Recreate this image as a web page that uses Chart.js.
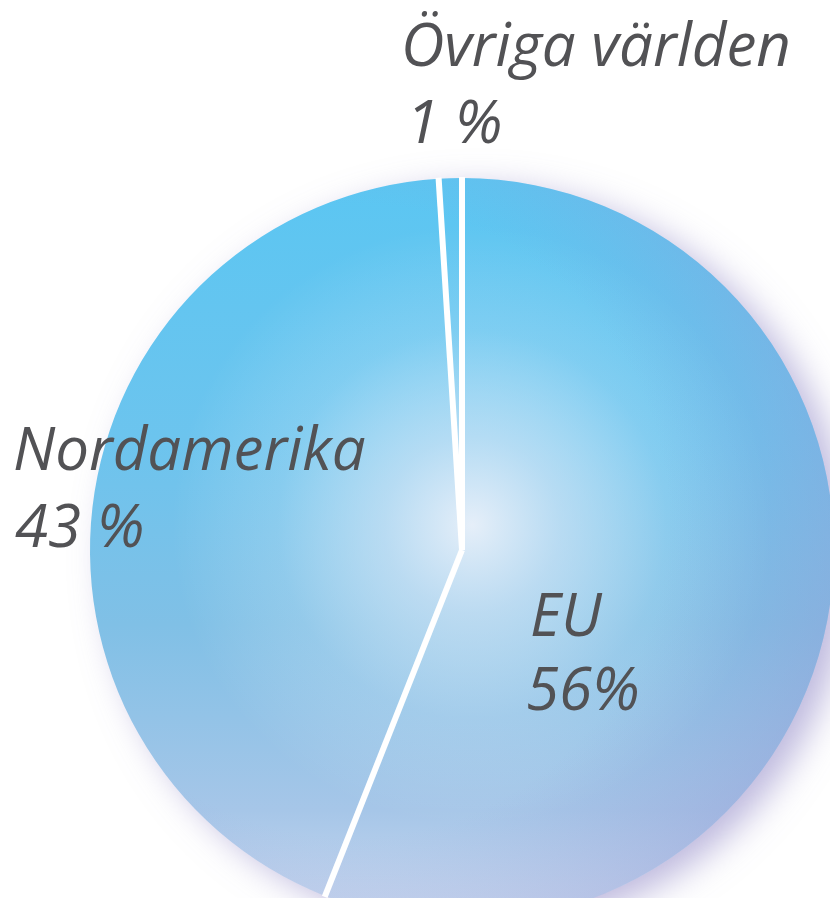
<!DOCTYPE html>
<html lang="sv">
<head>
<meta charset="utf-8">
<title>Export per region</title>
<script src="https://cdn.jsdelivr.net/npm/chart.js@4.4.1/dist/chart.umd.min.js"></script>
<style>
  html, body { margin: 0; padding: 0; background: #fff; overflow: hidden; width: 830px; height: 898px; }
  #wrap { position: absolute; left: 0; top: 0; width: 924px; height: 1100px; }
</style>
</head>
<body>
<div id="wrap"><canvas id="pieChart"></canvas></div>
<script>
// ── DATA ────────────────────────────────────────────────────────────────
const categories = ['EU', 'Nordamerika', 'Övriga världen'];
const shares = [56, 43, 1];
const shareLabels = ['56%', '43 %', '1 %'];

// ── STIL ────────────────────────────────────────────────────────────────
const TEXT_COLOR = '#525255';
const FONT = 'italic 400 60px "Open Sans", Lato, sans-serif';
// var texten hamnar (namn + andel på rad två), relativt canvas
const LABEL_POS = [
  { x: 530, y: 636, dy: 74, dx: -4 },   // EU
  { x: 13,  y: 470, dy: 77, dx: 2 },    // Nordamerika
  { x: 401, y: 66,  dy: 77, dx: 5 }     // Övriga världen
];
const SEP_WIDTH = 6;

let fillGrad = null;
function pieFill(ctx) {
  const chart = ctx.chart;
  const area = chart.chartArea;
  if (!area) return '#62c6f0';
  if (!fillGrad) {
    const g = chart.ctx.createLinearGradient(0, area.top, 0, area.bottom);
    g.addColorStop(0, '#5bc6f2');
    g.addColorStop(0.35, '#6cc4ee');
    g.addColorStop(0.6, '#80c0e6');
    g.addColorStop(0.85, '#a6c6e8');
    g.addColorStop(1, '#ccdaf0');
    fillGrad = g;
  }
  return fillGrad;
}

function arcGeom(chart) {
  const arc = chart.getDatasetMeta(0).data[0];
  if (!arc) return null;
  return arc.getProps(['x', 'y', 'outerRadius'], true);
}

// skugga bakom, ljus reflex och vita skiljelinjer
const shading = {
  id: 'shading',
  beforeDatasetsDraw(chart) {
    const g = arcGeom(chart);
    if (!g) return;
    const c = chart.ctx;
    c.save();
    c.shadowColor = 'rgba(125,115,190,0.5)';
    c.shadowBlur = 34;
    c.shadowOffsetX = 16;
    c.shadowOffsetY = 10;
    c.fillStyle = '#ffffff';
    c.beginPath();
    c.arc(g.x, g.y, g.outerRadius - 1, 0, Math.PI * 2);
    c.fill();
    c.restore();
  },
  afterDatasetsDraw(chart) {
    const g = arcGeom(chart);
    if (!g) return;
    const { x, y, outerRadius } = g;
    const c = chart.ctx;
    c.save();
    c.beginPath();
    c.arc(x, y, outerRadius, 0, Math.PI * 2);
    c.clip();
    const hx = x + 10, hy = y - 25;
    const rg = c.createRadialGradient(hx, hy, 0, hx, hy, outerRadius * 0.95);
    rg.addColorStop(0, 'rgba(238,242,250,0.93)');
    rg.addColorStop(0.25, 'rgba(228,236,248,0.6)');
    rg.addColorStop(0.55, 'rgba(240,246,252,0.18)');
    rg.addColorStop(0.85, 'rgba(255,255,255,0)');
    c.fillStyle = rg;
    c.fillRect(x - outerRadius, y - outerRadius, outerRadius * 2, outerRadius * 2);
    // lila kant åt höger
    const rim = c.createRadialGradient(x - 110, y - 30, outerRadius * 0.85, x - 110, y - 30, outerRadius * 1.3);
    rim.addColorStop(0, 'rgba(150,150,210,0)');
    rim.addColorStop(1, 'rgba(150,150,210,0.36)');
    c.fillStyle = rim;
    c.fillRect(x - outerRadius, y - outerRadius, outerRadius * 2, outerRadius * 2);
    c.restore();

    // skiljelinjer längs varje sektors startvinkel
    c.save();
    c.strokeStyle = '#ffffff';
    c.lineWidth = SEP_WIDTH;
    c.lineCap = 'butt';
    chart.getDatasetMeta(0).data.forEach(el => {
      const a = el.startAngle;
      c.beginPath();
      c.moveTo(x, y);
      c.lineTo(x + Math.cos(a) * (outerRadius + 1), y + Math.sin(a) * (outerRadius + 1));
      c.stroke();
    });
    c.restore();
  }
};

const labelsPlugin = {
  id: 'sliceLabels',
  afterDraw(chart) {
    const c = chart.ctx;
    c.save();
    c.font = FONT;
    c.fillStyle = TEXT_COLOR;
    c.textBaseline = 'alphabetic';
    c.textAlign = 'left';
    categories.forEach((cat, i) => {
      const p = LABEL_POS[i];
      c.fillText(cat, p.x, p.y);
      c.fillText(shareLabels[i], p.x + p.dx, p.y + p.dy);
    });
    c.restore();
  }
};

new Chart(document.getElementById('pieChart'), {
  type: 'pie',
  data: {
    labels: categories,
    datasets: [{
      data: shares,
      backgroundColor: pieFill,
      borderWidth: 0
    }]
  },
  options: {
    responsive: true,
    maintainAspectRatio: false,
    animation: false,
    rotation: 0,
    layout: { padding: { left: 90, right: 90, top: 178, bottom: 178 } },
    plugins: { legend: { display: false }, tooltip: { enabled: false } }
  },
  plugins: [shading, labelsPlugin]
});
</script>
</body>
</html>
